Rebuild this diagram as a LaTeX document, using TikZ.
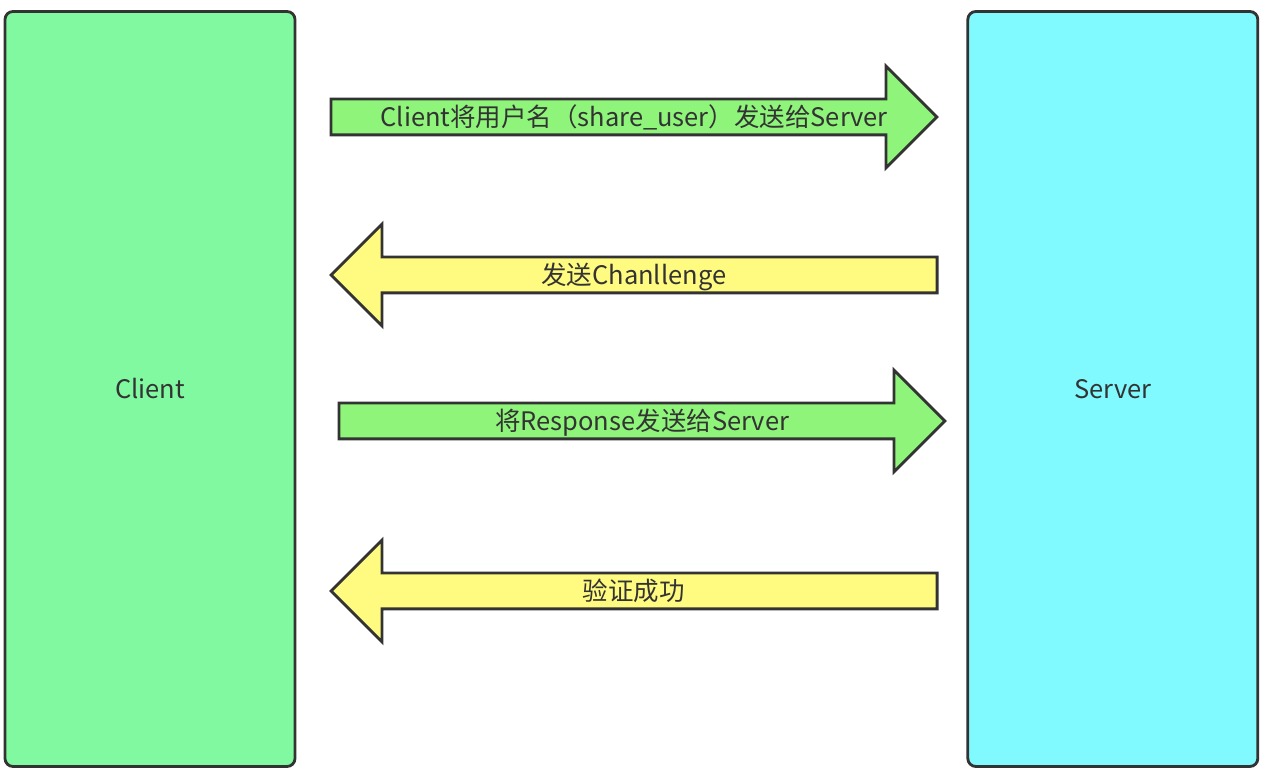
\documentclass[tikz,border=0pt]{standalone}
\usepackage{fontspec}
\setmainfont{Noto Sans CJK SC}
\usetikzlibrary{shapes.arrows, positioning, calc}
\definecolor{clientgreen}{HTML}{80F9A0}
\definecolor{servercyan}{HTML}{80F9FF}
\definecolor{sendgreen}{HTML}{8EF57A}
\definecolor{backyellow}{HTML}{FFFB80}
\definecolor{edgegray}{HTML}{333333}

\begin{document}
\begin{tikzpicture}[
      node distance=1.1cm and 13.4cm,
      party/.style={draw=edgegray, line width=1.6pt, rounded corners=0.16cm, minimum width=5.8cm, minimum height=15.1cm, font=\fontsize{14.5}{17}\selectfont, text=edgegray},
      msg/.style={single arrow, draw=edgegray, line width=1.6pt, minimum height=12.12cm, minimum width=2.0cm, single arrow head extend=0.66cm, inner xsep=0pt, inner ysep=0pt, text height=0.45cm, text depth=0.21cm, anchor=tail},
      toserver/.style={msg, fill=sendgreen},
      toclient/.style={msg, fill=backyellow, shape border rotate=180},
      msgtext/.style={font=\fontsize{14.5}{17}\selectfont, text=edgegray, inner sep=0pt, anchor=base, yshift=-0.19cm}
    ]
    \useasboundingbox (0,0) rectangle (25.4,15.48);

    \node (client) [party, fill=clientgreen] at (3.0,7.7) {Client};
    \node (server) [party, fill=servercyan, right=of client] {Server};

    % messages, each arrow with its text in the middle
    \node (user) [toserver] at (6.59,13.14) {};
    \node (usertxt) [msgtext] at ($(user.tail)!.5!(user.tip)$) {Client将用户名（share\_user）发送给Server};

    \node (challenge) [toclient] at (18.77,9.98) {};
    \node (challengetxt) [msgtext] at ($(challenge.tail)!.5!(challenge.tip)$) {发送Chanllenge};

    \node (response) [toserver] at (6.75,7.06) {};
    \node (responsetxt) [msgtext] at ($(response.tail)!.5!(response.tip)$) {将Response发送给Server};

    \node (ok) [toclient] at (18.77,3.66) {};
    \node (oktxt) [msgtext] at ($(ok.tail)!.5!(ok.tip)$) {验证成功};

\end{tikzpicture}
\end{document}
